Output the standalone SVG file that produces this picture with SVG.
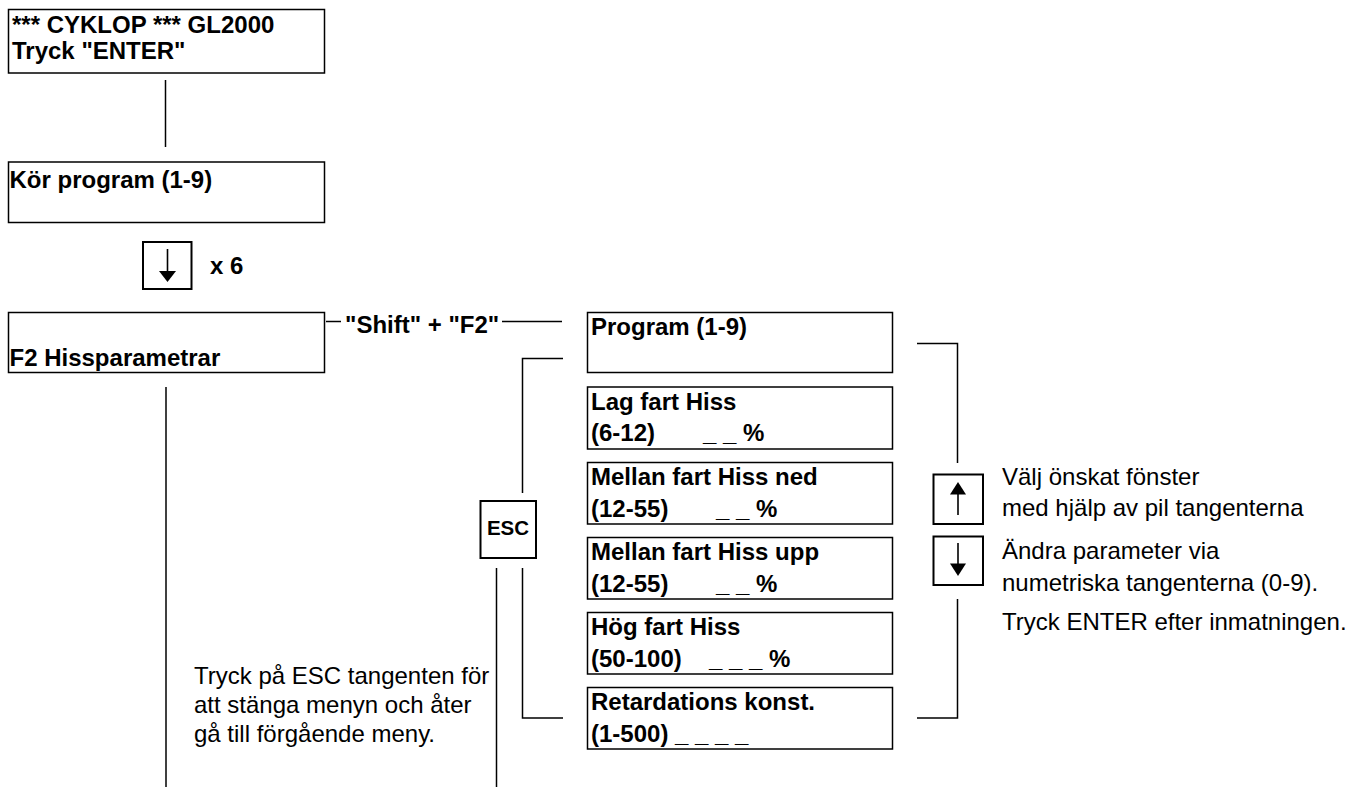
<svg xmlns="http://www.w3.org/2000/svg" width="1355" height="787" viewBox="0 0 1355 787">
  <style>
    text { font-family: "Liberation Sans", Arial, Helvetica, sans-serif; font-size: 24px; fill: #000; }
    .b { font-weight: bold; }
    .esc { font-weight: bold; font-size: 20.5px; }
    .box { fill: #fff; stroke: #000; stroke-width: 1.5; }
    .key { fill: #fff; stroke: #000; stroke-width: 2; }
    .ln { fill: none; stroke: #000; stroke-width: 1.5; }
    .arrow { stroke: #000; stroke-width: 1.6; fill: none; }
    .head { fill: #000; stroke: none; }
  </style>
  <rect width="1355" height="787" fill="#fff"/>

  <!-- connectors -->
  <g id="connectors">
    <line class="ln" x1="165.5" y1="80" x2="165.5" y2="147"/>
    <line class="ln" x1="326" y1="321.5" x2="341" y2="321.5"/>
    <line class="ln" x1="502" y1="321.5" x2="562" y2="321.5"/>
    <line class="ln" x1="166" y1="387" x2="166" y2="787"/>
    <path class="ln" d="M563,358.5 H522.5 V493"/>
    <path class="ln" d="M522.5,568 V718 H563"/>
    <line class="ln" x1="496.5" y1="568" x2="496.5" y2="787"/>
    <path class="ln" d="M917,343.5 H957.5 V463"/>
    <path class="ln" d="M957.5,599 V718 H917"/>
  </g>

  <!-- start screen -->
  <g id="start">
    <rect class="box" x="8.5" y="9.5" width="316" height="63.5"/>
    <text class="b" x="12" y="32.5">*** CYKLOP *** GL2000</text>
    <text class="b" x="12" y="59">Tryck "ENTER"</text>
  </g>

  <g id="run-program">
    <rect class="box" x="8.5" y="162" width="316" height="60.5"/>
    <text class="b" x="9.5" y="188">Kör program (1-9)</text>
  </g>

  <!-- down key pressed six times -->
  <g id="key-down-x6">
    <rect class="key" x="143" y="242" width="48.5" height="47"/>
    <line class="arrow" x1="167.5" y1="249" x2="167.5" y2="272"/>
    <polygon class="head" points="159,271 176,271 167.5,282"/>
    <text class="b" x="210" y="274">x 6</text>
  </g>

  <g id="f2-menu">
    <rect class="box" x="8.5" y="312.5" width="316" height="60"/>
    <text class="b" x="9.5" y="365.5">F2 Hissparametrar</text>
  </g>

  <g id="shift-f2">
    <text class="b" x="345" y="333">"Shift" + "F2"</text>
  </g>

  <!-- parameter screens -->
  <g id="p-program">
    <rect class="box" x="587.5" y="312.5" width="305" height="60"/>
    <text class="b" x="591" y="335">Program (1-9)</text>
  </g>
  <g id="p-lag">
    <rect class="box" x="587.5" y="387" width="305" height="62"/>
    <text class="b" x="591" y="410">Lag fart Hiss</text>
    <text class="b" y="441"><tspan x="591">(6-12)</tspan><tspan x="703">_ _ %</tspan></text>
  </g>
  <g id="p-mellan-ned">
    <rect class="box" x="587.5" y="462.5" width="305" height="61.5"/>
    <text class="b" x="591" y="485">Mellan fart Hiss ned</text>
    <text class="b" y="516.5"><tspan x="591">(12-55)</tspan><tspan x="716">_ _ %</tspan></text>
  </g>
  <g id="p-mellan-upp">
    <rect class="box" x="587.5" y="537.5" width="305" height="61.5"/>
    <text class="b" x="591" y="560">Mellan fart Hiss upp</text>
    <text class="b" y="591.5"><tspan x="591">(12-55)</tspan><tspan x="716">_ _ %</tspan></text>
  </g>
  <g id="p-hog">
    <rect class="box" x="587.5" y="612.5" width="305" height="61.5"/>
    <text class="b" x="591" y="635">Hög fart Hiss</text>
    <text class="b" y="666.5"><tspan x="591">(50-100)</tspan><tspan x="709">_ _ _ %</tspan></text>
  </g>
  <g id="p-retard">
    <rect class="box" x="587.5" y="687.5" width="305" height="61.5"/>
    <text class="b" x="591" y="710">Retardations konst.</text>
    <text class="b" x="591" y="741.5">(1-500) _ _ _ _</text>
  </g>

  <!-- ESC key and note -->
  <g id="key-esc">
    <rect class="key" x="480.5" y="501" width="55.5" height="57"/>
    <text class="esc" x="508" y="535" text-anchor="middle">ESC</text>
  </g>
  <g id="note-esc">
    <text x="194" y="683.5">Tryck på ESC tangenten för</text>
    <text x="194" y="712.5">att stänga menyn och åter</text>
    <text x="194" y="742">gå till förgående meny.</text>
  </g>

  <!-- arrow keys and note -->
  <g id="key-up">
    <rect class="key" x="933.5" y="474.5" width="49.5" height="49.5"/>
    <line class="arrow" x1="958" y1="493" x2="958" y2="515"/>
    <polygon class="head" points="950,494.5 966,494.5 958,482"/>
  </g>
  <g id="key-down">
    <rect class="key" x="933.5" y="536.5" width="49.5" height="48.5"/>
    <line class="arrow" x1="958" y1="543" x2="958" y2="565"/>
    <polygon class="head" points="950,563.5 966,563.5 958,576"/>
  </g>
  <g id="note-keys">
    <text x="1002" y="485">Välj önskat fönster</text>
    <text x="1002" y="516">med hjälp av pil tangenterna</text>
    <text x="1002" y="558.5">Ändra parameter via</text>
    <text x="1002" y="590.5">numetriska tangenterna (0-9).</text>
    <text x="1002" y="629.5">Tryck ENTER efter inmatningen.</text>
  </g>
</svg>
